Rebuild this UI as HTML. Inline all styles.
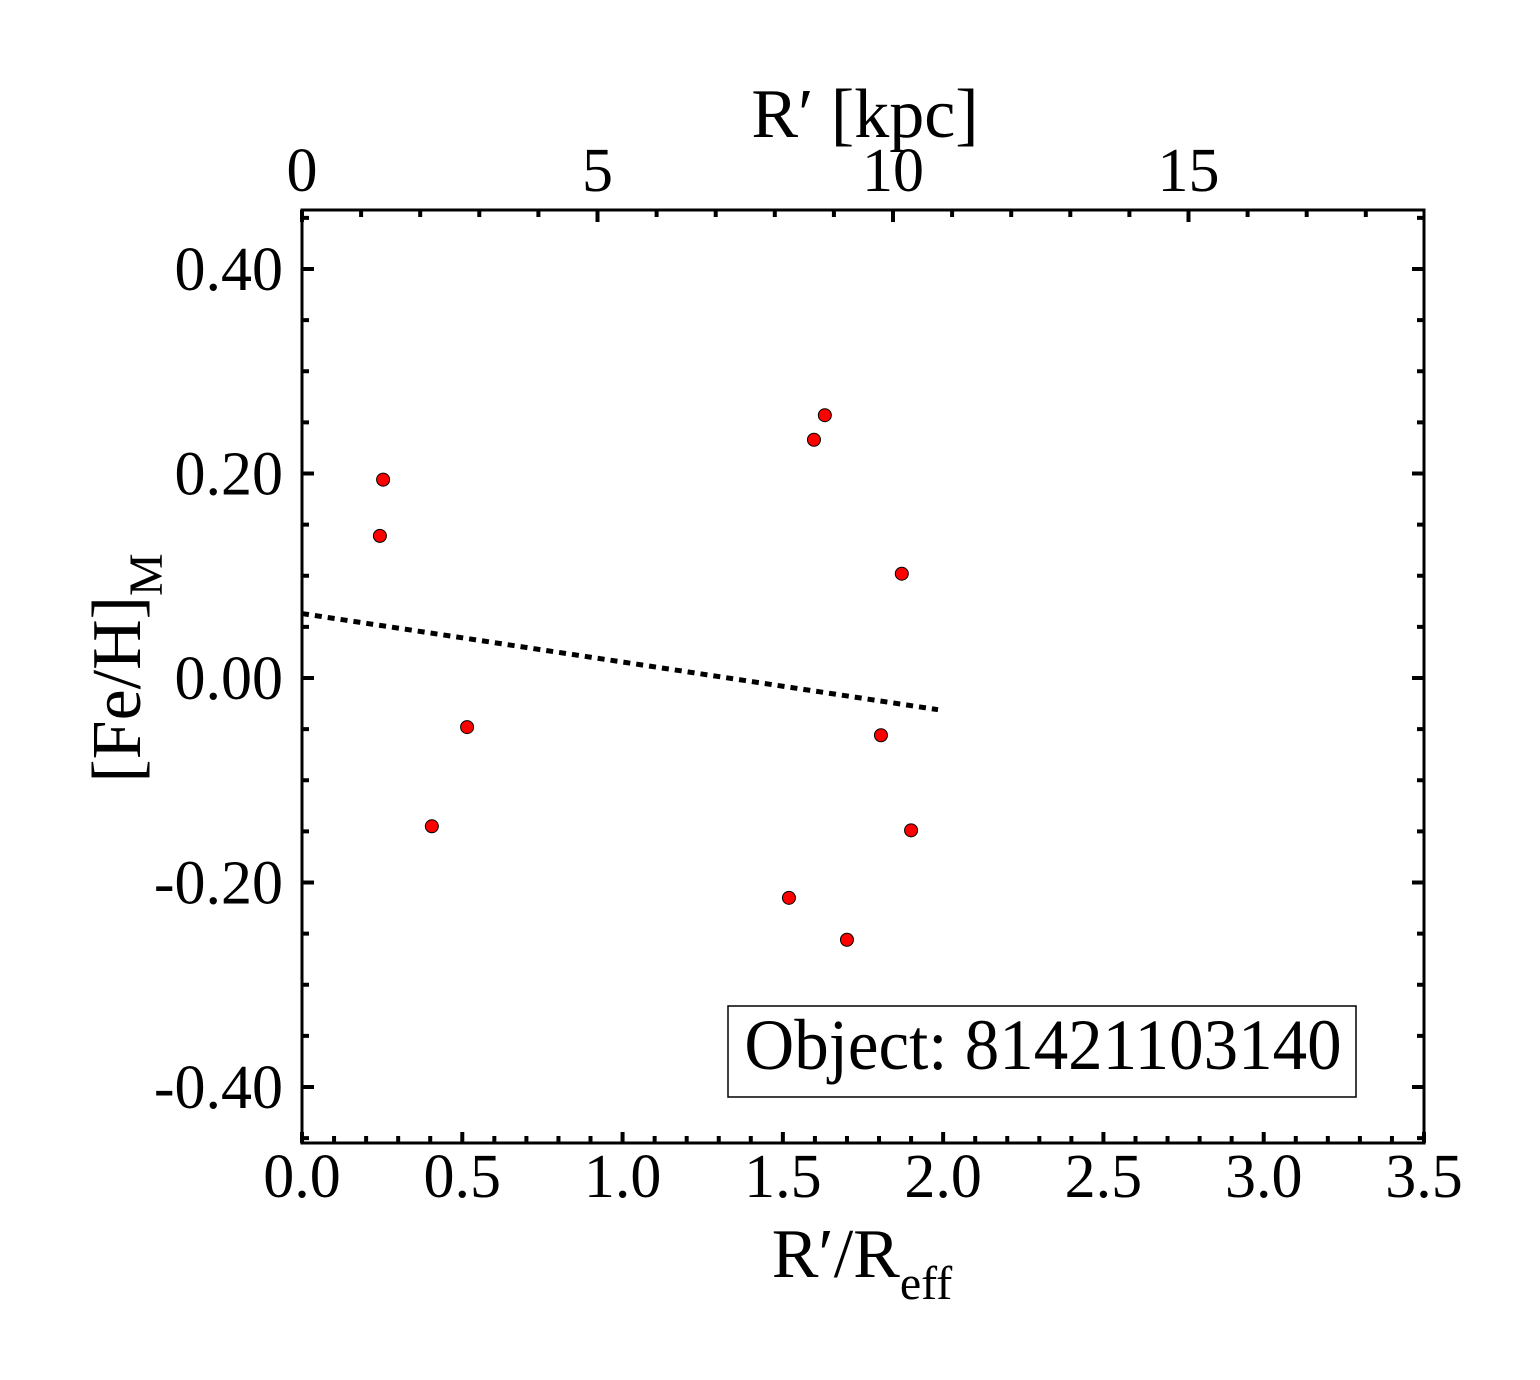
<!DOCTYPE html>
<html><head><meta charset="utf-8"><style>
body{margin:0;background:#fff}
svg text{font-family:"Liberation Serif",serif;fill:#000}
</style></head><body>
<svg id="chart" width="1540" height="1375" xmlns="http://www.w3.org/2000/svg">
<rect width="1540" height="1375" fill="#fff"/>
<g id="ticks"></g>
<line id="fit" stroke="#000" stroke-width="5" stroke-dasharray="7,6"/>
<g id="pts"></g>
<rect x="302" y="210" width="1122" height="933" fill="none" stroke="#000" stroke-width="3"/>
<rect x="728" y="1006" width="628" height="91" fill="#fff" stroke="#000" stroke-width="1.5"/>
<text x="1043" y="1069" font-size="69" text-anchor="middle" transform="translate(1043,1069) scale(1,1.05) translate(-1043,-1069)">Object: 81421103140</text>
<text x="865" y="137" font-size="70" text-anchor="middle">R′ [kpc]</text>
<text x="862" y="1277" font-size="70" text-anchor="middle">R′/R<tspan baseline-shift="-22" font-size="48">eff</tspan></text>
<text transform="translate(140,668) rotate(-90)" font-size="70" text-anchor="middle">[Fe/H]<tspan baseline-shift="-22" font-size="48">M</tspan></text>
</svg>
<script>
const xs=[0.253,0.243,0.515,0.405,1.631,1.597,1.871,1.806,1.900,1.519,1.700];
const ys=[0.194,0.139,-0.048,-0.145,0.257,0.233,0.102,-0.056,-0.149,-0.215,-0.256];
const fitX=[0,1.984];
const fitY=[0.063,-0.031];
const xTickLabels=["0.0","0.5","1.0","1.5","2.0","2.5","3.0","3.5"];
const yTickLabels=["0.40","0.20","0.00","-0.20","-0.40"];
const topTickLabels=["0","5","10","15"];
const L=302,R=1424,T=210,B=1143;
const X=v=>L+(v/3.5)*(R-L);
const Y=v=>678-v*1022.5;
const K=v=>L+v*59.1;
const NS="http://www.w3.org/2000/svg";
function mk(t,a,p){const e=document.createElementNS(NS,t);for(const k in a)e.setAttribute(k,a[k]);p.appendChild(e);return e;}
const tg=document.getElementById('ticks');
for(let i=0;i<=35;i++){const x=X(i/10),len=i%5==0?11:7;
 const t=mk('line',{x1:x,x2:x,y1:B,y2:B-len,stroke:'#000','stroke-width':4},tg);
 }
xTickLabels.forEach((s,i)=>{const t=mk('text',{x:X(i*0.5),y:1197,'font-size':62,'text-anchor':'middle'},tg);t.textContent=s;
 });
for(let k=0;k<=18;k++){const x=K(k);if(x>R)break;const len=k%5==0?12:7;
 const t=mk('line',{x1:x,x2:x,y1:T,y2:T+len,stroke:'#000','stroke-width':4},tg);
 }
topTickLabels.forEach((s,i)=>{const t=mk('text',{x:K(i*5),y:191,'font-size':62,'text-anchor':'middle'},tg);t.textContent=s;
 });
for(let i=-9;i<=9;i++){const y=Y(i*0.05);if(y<T||y>B)continue;const len=i%4==0?12:7;
 const a=mk('line',{x1:L,x2:L+len,y1:y,y2:y,stroke:'#000','stroke-width':4},tg);
 
 const b=mk('line',{x1:R,x2:R-len,y1:y,y2:y,stroke:'#000','stroke-width':4},tg);
 }
yTickLabels.forEach((s,i)=>{const t=mk('text',{x:283,y:Y(0.4-i*0.2)+21,'font-size':62,'text-anchor':'end'},tg);t.textContent=s;
 });
const f=document.getElementById('fit');
f.setAttribute('x1',X(fitX[0]));f.setAttribute('y1',Y(fitY[0]));f.setAttribute('x2',X(fitX[1]));f.setAttribute('y2',Y(fitY[1]));
const pg=document.getElementById('pts');
xs.forEach((v,i)=>{const c=mk('circle',{cx:X(v),cy:Y(ys[i]),r:6.5,fill:'#f00',stroke:'#000','stroke-width':1},pg);
 });
</script>
</body></html>
